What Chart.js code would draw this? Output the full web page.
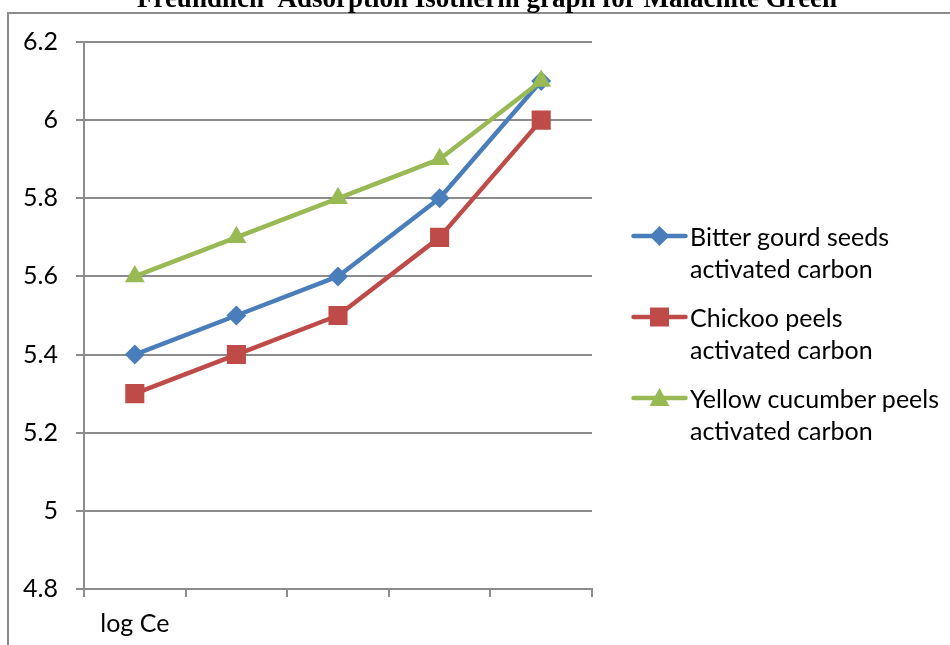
<!DOCTYPE html>
<html>
<head>
<meta charset="utf-8">
<title>Freundlich Adsorption Isotherm</title>
<script src="https://cdn.jsdelivr.net/npm/chart.js@4.4.0/dist/chart.umd.min.js"></script>
<style>
  html, body { margin: 0; padding: 0; background: #fff; overflow: hidden; }
  #wrap { position: relative; width: 950px; height: 645px; }
  #legend { position: absolute; left: 631px; top: 220px; font-family: Lato, sans-serif; font-size: 25px; color: #000; }
  #legend .item { position: relative; height: 64.8px; margin-bottom: 16px; }
  #legend canvas { position: absolute; left: 0; top: 1px; }
  #legend .text { position: absolute; left: 59px; top: 0; line-height: 32.4px; white-space: nowrap; }
</style>
</head>
<body>
<div id="wrap">
  <canvas id="isothermChart" width="950" height="645"></canvas>
  <div id="legend"></div>
</div>
<script>
'use strict';

// values per adsorbent, one per category along log Ce
const categories = ['log Ce', '', '', '', ''];
const bitterGourd = [5.4, 5.5, 5.6, 5.8, 6.1];
const chickoo = [5.3, 5.4, 5.5, 5.7, 6.0];
const yellowCucumber = [5.6, 5.7, 5.8, 5.9, 6.1];
const seriesNames = [
    ['Bitter gourd seeds', 'activated carbon'],
    ['Chickoo peels', 'activated carbon'],
    ['Yellow cucumber peels', 'activated carbon']
];
const yTicks = { min: 4.8, max: 6.2, step: 0.2 };
const chartTitle = 'Freundlich  Adsorption Isotherm graph for Malachite Green';

const gridColor = '#8c8c8c';
const colors = ['#4A7EBB', '#BE4B48', '#98B954'];
const shapes = ['rectRot', 'rect', 'triangle'];
const tickFont = { family: 'Lato', size: 25 };

// line + marker swatch for the html legend
function legendIcon(color, shape) {
    const c = document.createElement('canvas');
    c.width = 58;
    c.height = 30;
    const g = c.getContext('2d');
    const start = 0, end = 57, mid = 28.5, cy = 15;
    g.strokeStyle = color;
    g.lineWidth = 4.5;
    g.lineCap = 'round';
    g.beginPath();
    g.moveTo(start + 2.5, cy);
    g.lineTo(end - 2.5, cy);
    g.stroke();
    g.fillStyle = color;
    g.beginPath();
    if (shape === 'rectRot') {
        g.moveTo(mid, cy - 10);
        g.lineTo(mid + 10, cy);
        g.lineTo(mid, cy + 10);
        g.lineTo(mid - 10, cy);
    } else if (shape === 'rect') {
        g.rect(mid - 9.5, cy - 9.5, 19, 19);
    } else {
        g.moveTo(mid, cy - 10);
        g.lineTo(mid + 10, cy + 8);
        g.lineTo(mid - 10, cy + 8);
    }
    g.closePath();
    g.fill();
    return c;
}

// outer frame and the title clipped at the top edge
const frameAndTitle = {
    id: 'frameAndTitle',
    beforeDraw(chart) {
        const ctx = chart.ctx;
        ctx.save();
        ctx.strokeStyle = gridColor;
        ctx.lineWidth = 2;
        ctx.beginPath();
        ctx.moveTo(8, 645);
        ctx.lineTo(8, 13);
        ctx.lineTo(950, 13);
        ctx.stroke();
        ctx.fillStyle = '#000';
        ctx.font = 'bold 27px "Liberation Serif"';
        ctx.textAlign = 'center';
        ctx.textBaseline = 'alphabetic';
        ctx.fillText(chartTitle, 487, 7);
        ctx.restore();
    }
};

// legend built from the datasets, placed to the right of the plot
const htmlLegend = {
    id: 'htmlLegend',
    afterUpdate(chart) {
        const box = document.getElementById('legend');
        box.innerHTML = '';
        chart.data.datasets.forEach((ds, i) => {
            const item = document.createElement('div');
            item.className = 'item';
            item.appendChild(legendIcon(ds.borderColor, ds.pointStyle));
            const text = document.createElement('div');
            text.className = 'text';
            text.innerHTML = seriesNames[i].join('<br>');
            item.appendChild(text);
            box.appendChild(item);
        });
    }
};

function makeDataset(name, data, i, radius) {
    return {
        label: name.join(' '),
        data: data,
        borderColor: colors[i],
        backgroundColor: colors[i],
        borderWidth: 4.5,
        borderCapStyle: 'round',
        borderJoinStyle: 'round',
        tension: 0,
        pointStyle: shapes[i],
        pointRadius: radius,
        pointHoverRadius: radius,
        pointBorderWidth: 0,
        order: 2 - i
    };
}

const ctx = document.getElementById('isothermChart').getContext('2d');
new Chart(ctx, {
    type: 'line',
    data: {
        labels: categories,
        datasets: [
            makeDataset(seriesNames[0], bitterGourd, 0, 10),
            makeDataset(seriesNames[1], chickoo, 1, 13.5),
            makeDataset(seriesNames[2], yellowCucumber, 2, 11.5)
        ]
    },
    options: {
        responsive: false,
        animation: false,
        devicePixelRatio: 1,
        layout: { padding: { top: 42, bottom: 0, left: 0, right: 358 } },
        plugins: {
            title: { display: false },
            tooltip: { enabled: false },
            legend: { display: false }
        },
        scales: {
            x: {
                offset: true,
                afterFit(scale) { scale.height = 56; },
                grid: {
                    offset: true,
                    drawOnChartArea: false,
                    drawTicks: true,
                    tickLength: 8,
                    color: gridColor,
                    lineWidth: 2
                },
                border: { display: true, color: gridColor, width: 2 },
                ticks: {
                    color: '#000',
                    font: tickFont,
                    padding: 12,
                    maxRotation: 0,
                    autoSkip: false
                }
            },
            y: {
                min: yTicks.min,
                max: yTicks.max,
                afterFit(scale) { scale.width = 84; },
                grid: {
                    color: gridColor,
                    lineWidth: 2,
                    tickLength: 8
                },
                border: { display: true, color: gridColor, width: 2 },
                ticks: {
                    stepSize: yTicks.step,
                    color: '#000',
                    font: tickFont,
                    padding: 18,
                    callback: (v) => String(Number(v.toFixed(1)))
                }
            }
        }
    },
    plugins: [frameAndTitle, htmlLegend]
});
</script>
</body>
</html>
